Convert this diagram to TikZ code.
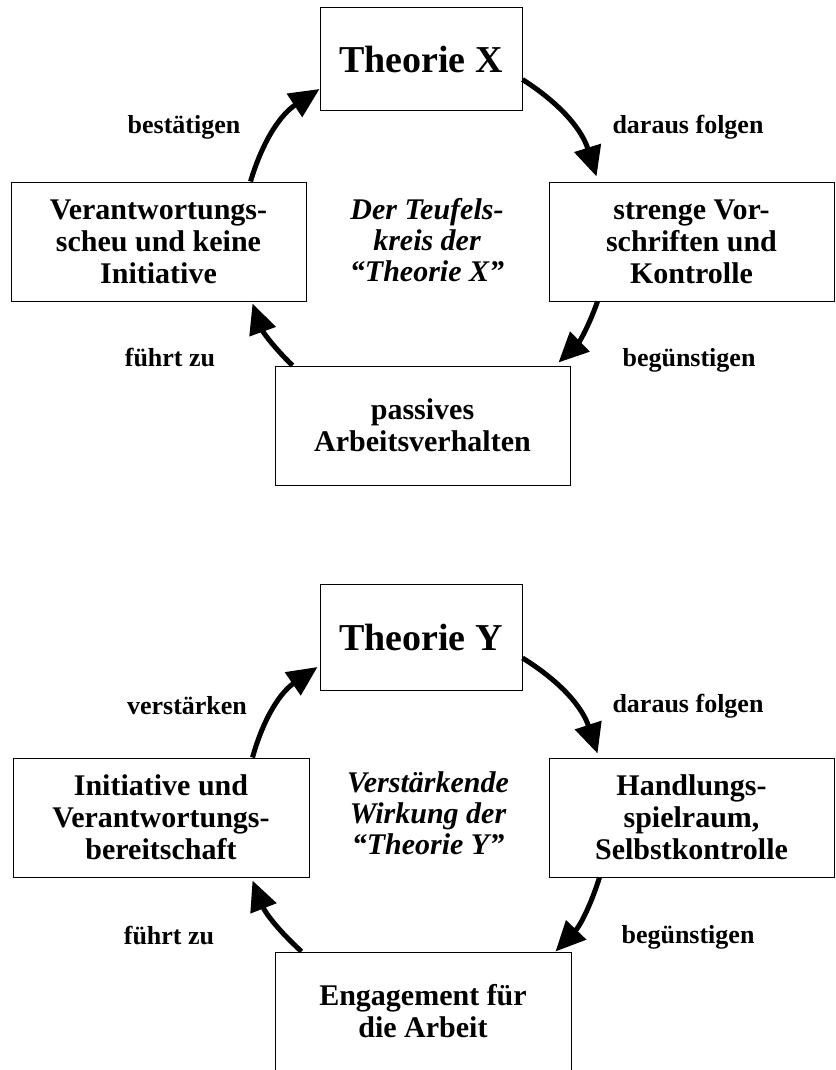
\documentclass[tikz,border=0pt]{standalone}
\usepackage{fontspec}
\setmainfont{Liberation Serif}
\usetikzlibrary{arrows.meta}
\begin{document}
\begin{tikzpicture}[x=1pt,y=-1pt,
  box/.style={draw, line width=1pt, inner sep=0pt, align=center,
    font=\fontsize{30}{32}\selectfont\bfseries},
  titlebox/.style={box, font=\fontsize{38}{40}\selectfont\bfseries},
  lab/.style={font=\fontsize{26}{28}\selectfont\bfseries, inner sep=0pt, anchor=base},
  ctr/.style={align=center, inner sep=0pt, font=\fontsize{30}{31}\selectfont\bfseries\itshape},
  arr/.style={line width=5pt, -{Triangle[length=30pt,width=27pt]}}
]
\useasboundingbox (0,0) rectangle (835,1070);
\clip (0,0) rectangle (835,1070);

% ---------- Theorie X ----------
\node[titlebox, minimum width=202pt, minimum height=103pt] (tx) at (421,59.5) {Theorie X};
\node[box, minimum width=295pt, minimum height=119pt] (lx) at (158.5,241.5)
  {Verantwortungs-\\scheu und keine\\Initiative};
\node[box, minimum width=285pt, minimum height=119pt] (rx) at (691.5,241.5)
  {strenge Vor-\\schriften und\\Kontrolle};
\node[box, minimum width=295pt, minimum height=119pt] (bx) at (422.5,425.5)
  {passives\\Arbeitsverhalten};
\node[ctr] (cx) at (427,240) {Der Teufels-\\kreis der\\“Theorie X”};

\node[lab] (l1) at (184,134) {bestätigen};
\node[lab] (l2) at (688,134) {daraus folgen};
\node[lab] (l3) at (170,366) {führt zu};
\node[lab] (l4) at (689,366) {begünstigen};

\draw[arr] ([xshift=-56pt]lx.north east) to[bend left=20] ([yshift=-29.5pt]tx.west);
\draw[arr] ([yshift=-20pt]tx.east) to[bend left=20] ([shift={(48pt,5pt)}]rx.north west);
\draw[arr] ([xshift=49pt]rx.south west) to[bend left=13] ([shift={(-12pt,3pt)}]bx.north east);
\draw[arr] ([xshift=18pt]bx.north west) to[bend left=13] ([shift={(-54pt,-2pt)}]lx.south east);

% ---------- Theorie Y ----------
\node[titlebox, minimum width=202pt, minimum height=106pt] (ty) at (421,637) {Theorie Y};
\node[box, minimum width=296pt, minimum height=119pt] (ly) at (161,817.5)
  {Initiative und\\Verantwortungs-\\bereitschaft};
\node[box, minimum width=285pt, minimum height=119pt] (ry) at (691.5,817.5)
  {Handlungs-\\spielraum,\\Selbstkontrolle};
\node[box, minimum width=296pt, minimum height=119pt] (by) at (423,1011.5)
  {Engagement für\\die Arbeit};
\node[ctr] (cy) at (428,813) {Verstärkende\\Wirkung der\\“Theorie Y”};

\node[lab] (m1) at (187,714) {verstärken};
\node[lab] (m2) at (688,712) {daraus folgen};
\node[lab] (m3) at (169,944) {führt zu};
\node[lab] (m4) at (688,943) {begünstigen};

\draw[arr] ([xshift=-57pt]ly.north east) to[bend left=20] ([shift={(-2pt,-30pt)}]ty.west);
\draw[arr] ([yshift=-21pt]ty.east) to[bend left=20] ([shift={(49pt,4pt)}]ry.north west);
\draw[arr] ([xshift=51pt]ry.south west) to[bend left=13] ([xshift=-16pt]by.north east);
\draw[arr] ([xshift=27pt]by.north west) to[bend left=13] ([shift={(-57pt,-3pt)}]ly.south east);
\end{tikzpicture}
\end{document}
